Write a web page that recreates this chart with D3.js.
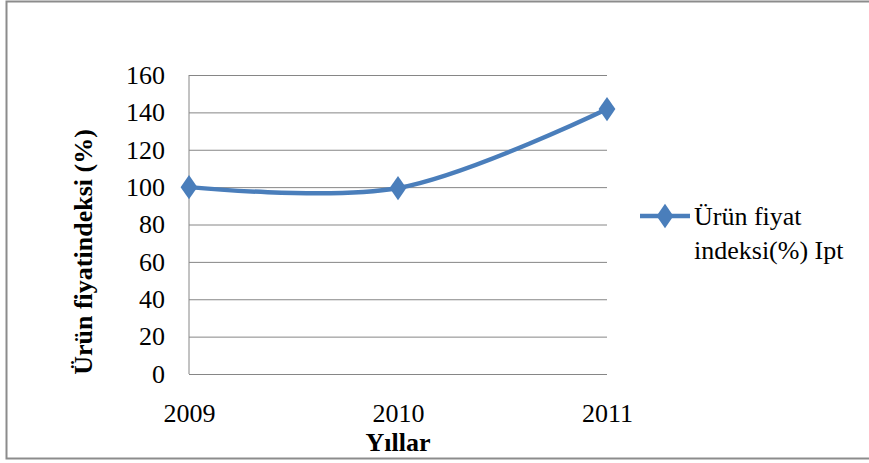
<!DOCTYPE html>
<html><head><meta charset="utf-8">
<script src="https://cdn.jsdelivr.net/npm/d3@7"></script>
<style>body{margin:0;background:#fff}svg{display:block}text{font-family:"Liberation Serif","Times New Roman",serif}</style>
</head><body>
<svg id="c" width="869" height="463"></svg>
<script>
const years = ["2009", "2010", "2011"];
const values = [100, 99.5, 141.8];
const yTicks = [0, 20, 40, 60, 80, 100, 120, 140, 160];
const seriesName = ["Ürün fiyat", "indeksi(%) Ipt"];
const yTitle = "Ürün fiyatindeksi (%)";
const xTitle = "Yıllar";

const svg = d3.select("#c");
const blue = "#4A7EBB";
const grid = "#868686";
const serif = "Liberation Serif";
const L = 189, R = 607, T = 75, B = 374;

svg.append("rect").attr("x", 6.5).attr("y", 1.5).attr("width", 870).attr("height", 457)
  .attr("fill", "none").attr("stroke", "#8c8c8c").attr("stroke-width", 2);

const x = d3.scalePoint().domain(years).range([L, R]).padding(0);
const y = d3.scaleLinear().domain([0, 160]).range([B, T]);

const yAxis = svg.append("g").attr("transform", `translate(${L},0)`)
  .call(d3.axisLeft(y).tickValues(yTicks).tickSize(-(R - L)).tickPadding(24).tickFormat(d3.format("d")));
yAxis.attr("font-family", serif);
yAxis.select(".domain").remove();
yAxis.selectAll(".tick line").attr("stroke", grid).attr("stroke-width", 1);
yAxis.selectAll(".tick text").attr("font-size", 26).attr("fill", "#000");

svg.append("line").attr("x1", L).attr("x2", L).attr("y1", T).attr("y2", B)
  .attr("stroke", grid).attr("stroke-width", 1);

const xAxis = svg.append("g").attr("transform", `translate(0,${B})`)
  .call(d3.axisBottom(x).tickSize(0).tickPadding(30));
xAxis.attr("font-family", serif);
xAxis.select(".domain").remove();
xAxis.selectAll(".tick text").attr("font-size", 26).attr("fill", "#000");

svg.append("text").attr("x", 398).attr("y", 451).attr("text-anchor", "middle")
  .attr("font-family", serif).attr("font-size", 26).attr("font-weight", "bold").text(xTitle);

svg.append("text").attr("transform", "translate(92,252) rotate(-90)").attr("text-anchor", "middle")
  .attr("font-family", serif).attr("font-size", 26).attr("font-weight", "bold").text(yTitle);

const data = years.map((d, i) => ({ year: d, v: values[i] }));
const line = d3.line().x(d => x(d.year)).y(d => y(d.v)).curve(d3.curveCatmullRom.alpha(0.5));
svg.append("path").datum(data).attr("d", line).attr("fill", "none")
  .attr("stroke", blue).attr("stroke-width", 4.5).attr("stroke-linecap", "round");

const diamond = d3.symbol().type(d3.symbolDiamond).size(170);
svg.selectAll(".pt").data(data).join("path").attr("class", "pt")
  .attr("d", diamond).attr("transform", d => `translate(${x(d.year)},${y(d.v)}) scale(1.2,1)`)
  .attr("fill", blue);

// legend
const lg = svg.append("g");
lg.append("line").attr("x1", 640).attr("x2", 690).attr("y1", 216).attr("y2", 216)
  .attr("stroke", blue).attr("stroke-width", 4.5);
lg.append("path").attr("d", diamond).attr("transform", "translate(665,216) scale(1.2,1)").attr("fill", blue);
seriesName.forEach((s, i) => {
  lg.append("text").attr("x", 694).attr("y", 225 + i * 34).attr("font-family", serif)
    .attr("font-size", 26).attr("fill", "#000").text(s);
});
</script>
</body></html>
